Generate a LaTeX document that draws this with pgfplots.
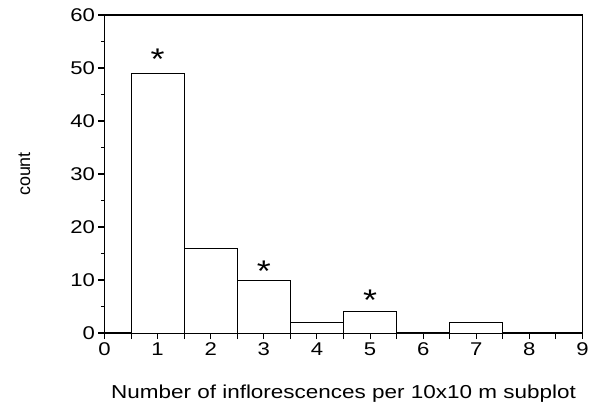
\documentclass[border=0pt]{standalone}
\usepackage{fontspec}
\setmainfont{Liberation Sans}[FakeStretch=1.2]
\newfontfamily\plainfont{Liberation Sans}
\usepackage{pgfplots}
\pgfplotsset{compat=1.18}
\begin{document}
\begin{tikzpicture}
\path[use as bounding box] (-104.5bp,-81bp) rectangle (490.5bp,333bp);
\begin{axis}[
  scale only axis,
  width=478bp, height=318bp,
  xmin=0, xmax=9, ymin=0, ymax=60,
  axis line style={line width=1.1pt},
  xtick={0,0.5,...,9},
  xticklabels={0,,1,,2,,3,,4,,5,,6,,7,,8,,9},
  ytick={0,10,...,60},
  minor ytick={5,15,...,55},
  xtick pos=left, ytick pos=left,
  tick align=outside,
  major tick length=6bp,
  minor tick length=3.5bp,
  every minor tick/.append style={line width=1.1pt},
  every major tick/.append style={line width=1.1pt},
  tick style={black},
  /pgf/number format/assume math mode=true,
  ticklabel style={font=\fontsize{18.5}{20}\selectfont},
  xlabel={Number of inflorescences per 10x10 m subplot},
  xlabel style={at={(rel axis cs:0.5,0)}, anchor=base, yshift=-65bp, font=\fontsize{18.8}{21}\selectfont},
  ylabel={count},
  ylabel style={at={(rel axis cs:0,0.5)}, anchor=center, yshift=80bp, font=\plainfont\fontsize{18}{20}\selectfont},
  clip=false,
]
\addplot[ybar interval, fill=white, draw=black, line width=1pt]
  coordinates {(0.5,49) (1.5,16) (2.5,10) (3.5,2) (4.5,4) (5.5,0) (6.5,2) (7.5,0)};
\node[anchor=base, font=\fontsize{30}{32}\selectfont] at (axis cs:1,49.8) {*};
\node[anchor=base, font=\fontsize{30}{32}\selectfont] at (axis cs:3,9.8) {*};
\node[anchor=base, font=\fontsize{30}{32}\selectfont] at (axis cs:5,4.3) {*};
\end{axis}
\end{tikzpicture}
\end{document}
